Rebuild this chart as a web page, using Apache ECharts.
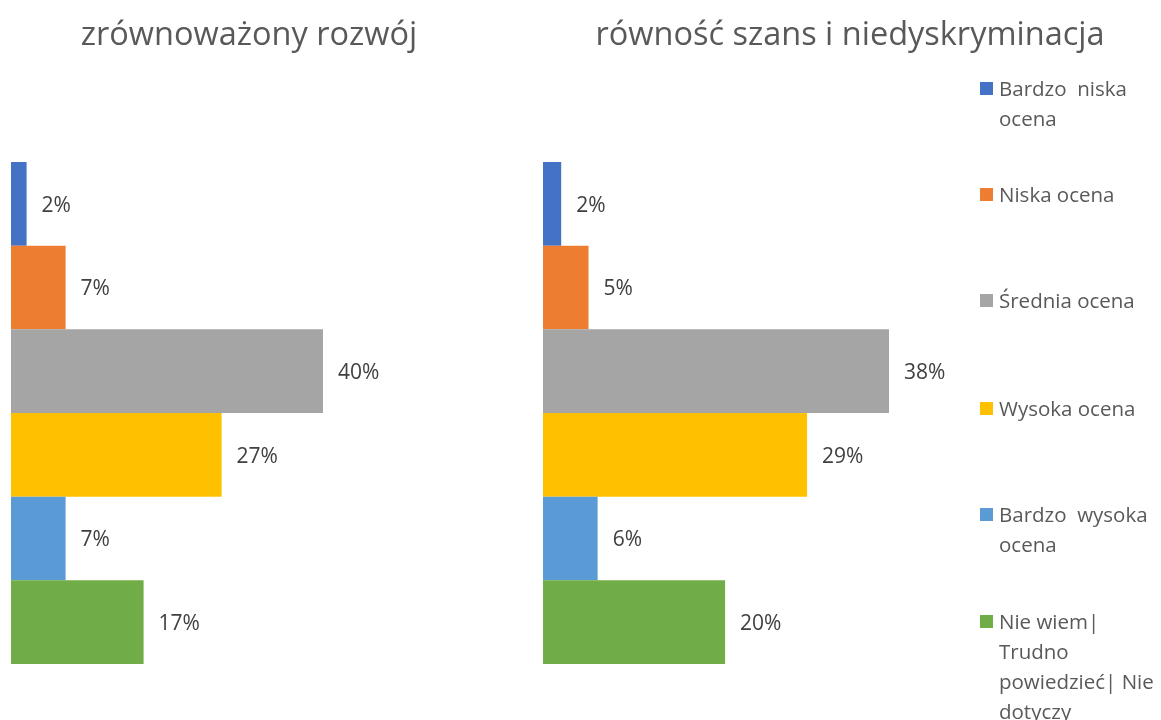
<!DOCTYPE html>
<html>
<head>
<meta charset="utf-8">
<script src="https://cdn.jsdelivr.net/npm/echarts@6/dist/echarts.min.js"></script>
<style>
  html, body { margin: 0; padding: 0; background: #fff; }
  #chart { width: 1161px; height: 720px; }
</style>
</head>
<body>
<div id="chart"></div>
<script>
// dane
const categories = ['Bardzo niska ocena', 'Niska ocena', 'Średnia ocena', 'Wysoka ocena', 'Bardzo wysoka ocena', 'Nie wiem| Trudno powiedzieć| Nie dotyczy'];
const legendLabels = ['Bardzo  niska\nocena', 'Niska ocena', 'Średnia ocena', 'Wysoka ocena', 'Bardzo  wysoka\nocena', 'Nie wiem|\nTrudno\npowiedzieć| Nie\ndotyczy'];
const panelTitles = ['zrównoważony rozwój', 'równość szans i niedyskryminacja'];
const valuesRozwoj = [2, 7, 40, 27, 7, 17];
const valuesRownosc = [2, 5, 38, 29, 6, 20];

const colors = ['#4472C4', '#ED7D31', '#A5A5A5', '#FFC000', '#5B9BD5', '#70AD47'];
const FONT = '"Open Sans", sans-serif';

const chart = echarts.init(document.getElementById('chart'), null, { renderer: 'canvas' });

const makeData = (vals) => vals.map((v, i) => ({ value: v, itemStyle: { color: colors[i] } }));

// legenda (ikonka wyrównana do pierwszej linii tekstu)
const legendTops = [82, 188, 294, 402, 508, 615];
const legendGraphics = [];
legendLabels.forEach((label, i) => {
    legendGraphics.push({
        type: 'rect', left: 980, top: legendTops[i],
        shape: { width: 13, height: 13 },
        style: { fill: colors[i] }
    });
    legendGraphics.push({
        type: 'text', left: 999, top: legendTops[i] - 7,
        style: { text: label, fill: '#595959', font: '20.5px ' + FONT, lineHeight: 30 }
    });
});

const labelStyle = {
    show: true, position: 'right', distance: 15, formatter: '{c}%', offset: [0, 2],
    color: '#404040', fontSize: 21, fontFamily: FONT
};

const option = {
    animation: false,
    title: [
        { text: panelTitles[0], left: 244, top: 14, textAlign: 'center',
          textStyle: { color: '#595959', fontSize: 32.5, fontWeight: 'normal', fontFamily: FONT } },
        { text: panelTitles[1], left: 845, top: 14, textAlign: 'center',
          textStyle: { color: '#595959', fontSize: 32.5, fontWeight: 'normal', fontFamily: FONT } }
    ],
    grid: [
        { left: 11, top: 162, width: 312, height: 502 },
        { left: 543, top: 162, width: 346, height: 502 }
    ],
    xAxis: [
        { gridIndex: 0, type: 'value', min: 0, max: 40, show: false },
        { gridIndex: 1, type: 'value', min: 0, max: 38, show: false }
    ],
    yAxis: [
        { gridIndex: 0, type: 'category', data: categories, inverse: true, show: false },
        { gridIndex: 1, type: 'category', data: categories, inverse: true, show: false }
    ],
    series: [
        { type: 'bar', xAxisIndex: 0, yAxisIndex: 0, data: makeData(valuesRozwoj), barCategoryGap: 0, label: labelStyle },
        { type: 'bar', xAxisIndex: 1, yAxisIndex: 1, data: makeData(valuesRownosc), barCategoryGap: 0, label: labelStyle }
    ],
    graphic: legendGraphics
};

chart.setOption(option);
</script>
</body>
</html>
